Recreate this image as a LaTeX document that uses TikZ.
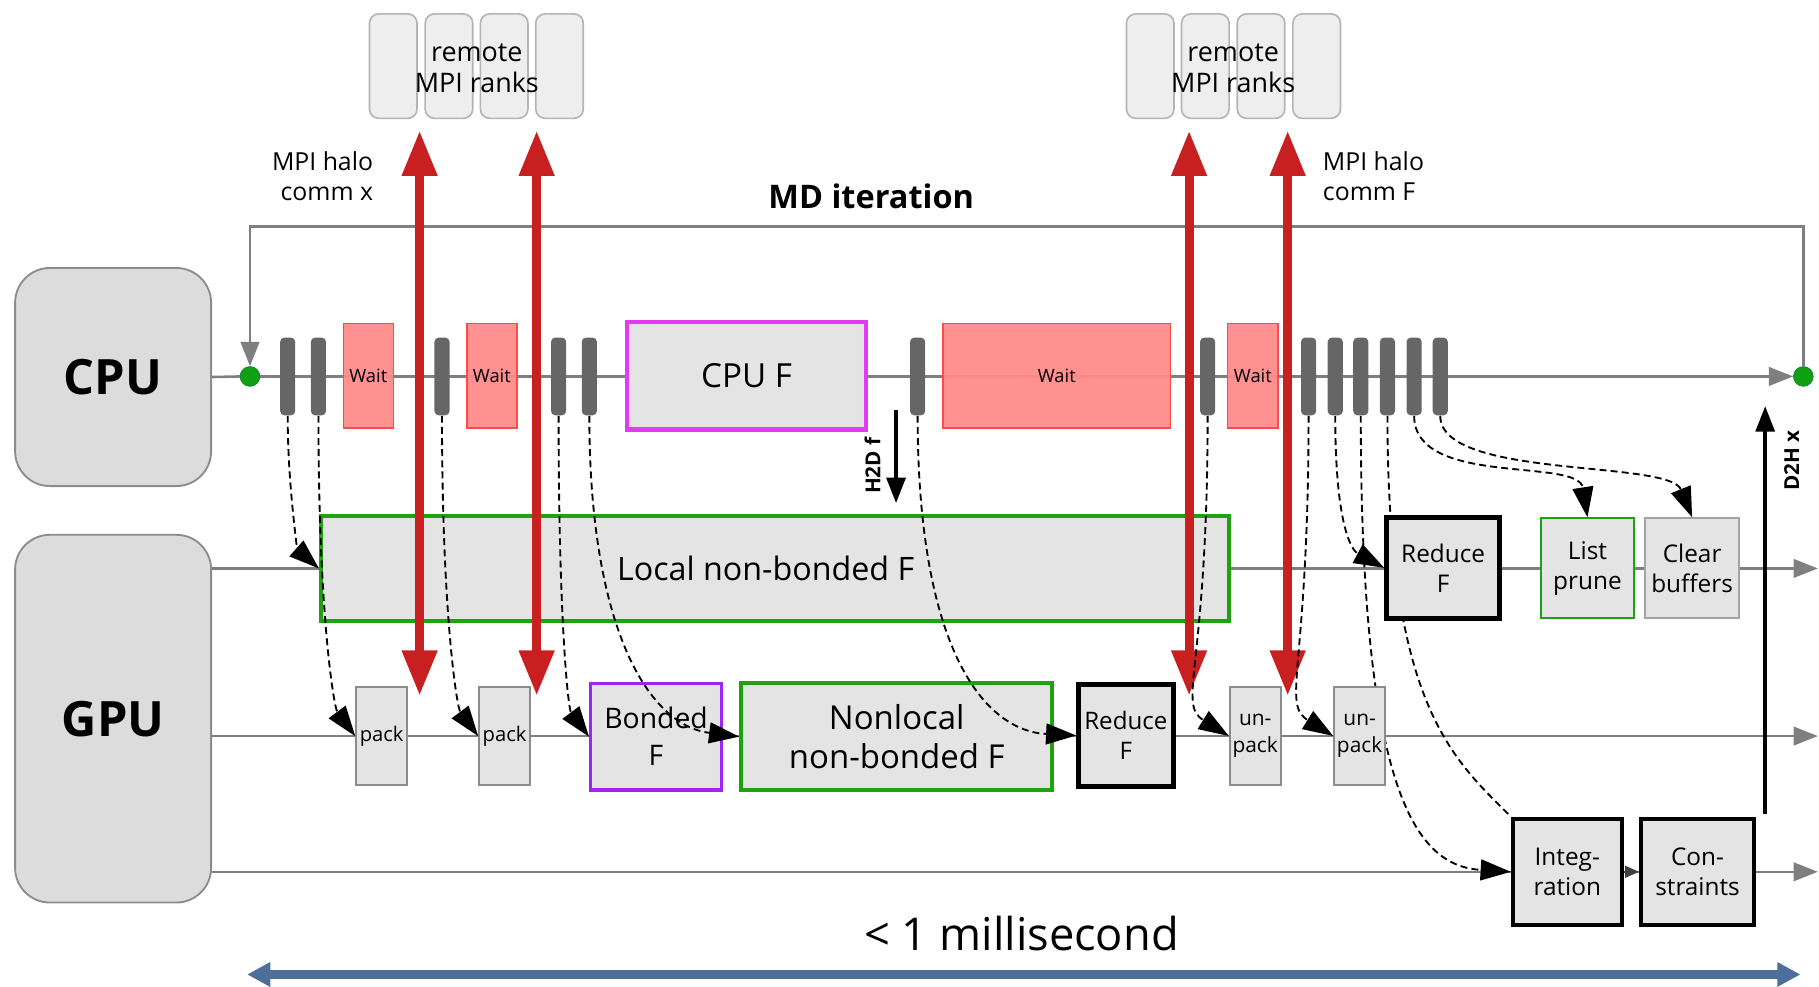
\documentclass[tikz,border=0pt]{standalone}
\usepackage{fontspec}
\setmainfont{Open Sans}
\usetikzlibrary{arrows.meta}
\pgfdeclarelayer{bg}
\pgfsetlayers{bg,main}
\definecolor{boxgray}{HTML}{E4E4E4}
\definecolor{pugray}{HTML}{DCDCDC}
\definecolor{edgegray}{HTML}{8C8C8C}
\definecolor{linegray}{HTML}{7F7F7F}
\definecolor{bargray}{HTML}{666666}
\definecolor{waitfill}{HTML}{FF8A8A}
\definecolor{waitedge}{HTML}{FF4A4A}
\definecolor{mdgreen}{HTML}{1FA20F}
\definecolor{magentaF}{HTML}{E53AF5}
\definecolor{purpleF}{HTML}{A025F5}
\definecolor{mpired}{HTML}{C82020}
\definecolor{dotgreen}{HTML}{11A011}
\definecolor{timeblue}{HTML}{4D6E99}
\definecolor{remotefill}{HTML}{EEEEEE}
\definecolor{remoteedge}{HTML}{B4B4B4}
\tikzset{
 lane/.style={draw=linegray, line width=1.1pt},
 lanearrow/.style={lane, -{Triangle[length=10.5pt,width=8pt]}},
 pu/.style={draw=edgegray, fill=pugray, rounded corners=15pt, line width=0.8pt, inner sep=0pt, font=\fontsize{21}{25}\selectfont\bfseries},
 remote/.style={draw=remoteedge, fill=remotefill, rounded corners=4pt, line width=0.7pt, minimum width=20.5pt, minimum height=45pt, inner sep=0pt},
 bar/.style={fill=bargray, rounded corners=1.8pt, minimum width=6.5pt, minimum height=33.5pt, inner sep=0pt},
 wait/.style={draw=waitedge, fill=waitfill, fill opacity=0.94, text opacity=1, line width=0.6pt, minimum height=45pt, inner sep=0pt, font=\fontsize{7.9}{9}\selectfont},
 task/.style={draw=edgegray, fill=boxgray, line width=0.8pt, inner sep=0pt, align=center},
 dot/.style={circle, fill=dotgreen, draw=dotgreen!80!blue, line width=0.3pt, minimum size=8.5pt, inner sep=0pt},
 mpi/.style={draw=mpired, line width=3.8pt, {Triangle[length=19.5pt,width=14.5pt]}-{Triangle[length=19.5pt,width=14.5pt]}},
 dep/.style={draw=black, line width=0.8pt, dash pattern=on 3pt off 1.8pt, -{Triangle[length=13pt,width=9pt]}},
 depplain/.style={draw=black, line width=0.8pt, dash pattern=on 3pt off 1.8pt},
 xfer/.style={draw=black, line width=1.8pt, -{Triangle[length=11pt,width=8pt]}},
 xferlbl/.style={rotate=90, font=\fontsize{8.9}{10}\selectfont\bfseries, inner sep=0pt},
 timeline/.style={draw=timeblue, line width=3.6pt, {Triangle[length=10pt,width=10pt]}-{Triangle[length=10pt,width=10pt]}},
 lbl/.style={font=\fontsize{10.7}{13}\selectfont, inner sep=0pt},
}
\begin{document}
\begin{tikzpicture}[x=0.5pt,y=-0.5pt]
\useasboundingbox (0,0) rectangle (1568,850);

% processing units
\node[pu, minimum width=84.5pt, minimum height=94pt] (cpu) at (97.5,325) {CPU};
\node[pu, minimum width=84.5pt, minimum height=158.5pt] (gpu) at (97.5,619.5) {GPU};

% remote ranks
\node[remote] (ra1) at (339,57) {};
\node[remote] (ra2) at (387,57) {};
\node[remote] (ra3) at (434.6,57) {};
\node[remote] (ra4) at (482.3,57) {};
\node[font=\fontsize{11.6}{13.5}\selectfont, align=center, inner sep=0pt] (rtxt1) at (411,59) {remote\\MPI ranks};
\node[remote] (rb1) at (991.5,57) {};
\node[remote] (rb2) at (1039,57) {};
\node[remote] (rb3) at (1087,57) {};
\node[remote] (rb4) at (1135,57) {};
\node[font=\fontsize{11.6}{13.5}\selectfont, align=center, inner sep=0pt] (rtxt2) at (1063,59) {remote\\MPI ranks};

% labels
\node[lbl, anchor=east, align=right] (hx) at (322,152) {MPI halo\\comm x};
\node[lbl, anchor=west, align=left] (hf) at (1140,152) {MPI halo\\comm F};
\node[font=\fontsize{14}{17}\selectfont\bfseries, inner sep=0pt] (md) at (751,169) {MD iteration};

% CPU timeline
\node[dot] (d1) at (215.5,324.5) {};
\node[dot] (d2) at (1554.5,324.5) {};
\foreach \x [count=\i] in {248,274.5,381,481.5,508,791,1041,1128,1151,1173,1196,1219,1241.5}
  \node[bar] (b\i) at (\x,324.5) {};
\node[wait, minimum width=21.5pt] (w1) at (317.5,324) {Wait};
\node[wait, minimum width=21.5pt] (w2) at (424,324) {Wait};
\node[wait, minimum width=98.2pt] (w3) at (911,324) {Wait};
\node[wait, minimum width=21.7pt] (w4) at (1080,324) {Wait};
\node[task, draw=magentaF, line width=2pt, minimum width=103pt, minimum height=46.5pt, font=\fontsize{14.3}{17}\selectfont] (cpuf) at (643.5,324) {CPU F};

% GPU lane 1
\node[task, draw=mdgreen, line width=1.8pt, minimum width=391.5pt, minimum height=45.3pt, font=\fontsize{13.9}{17}\selectfont] (local) at (668.2,490) {\kern-8.2pt Local non-bonded F};
\node[task, draw=black, line width=2pt, minimum width=48.8pt, minimum height=43.5pt, font=\fontsize{10.5}{13}\selectfont] (reduceU) at (1244,489.5) {Reduce\\F};
\node[task, draw=mdgreen, line width=0.8pt, minimum width=40.2pt, minimum height=43pt, font=\fontsize{10.5}{13}\selectfont] (prune) at (1368.4,489.7) {List\\prune};
\node[task, draw=edgegray!80, line width=0.8pt, minimum width=40.5pt, minimum height=43pt, font=\fontsize{10.5}{13}\selectfont] (clear) at (1458.6,489.7) {Clear\\buffers};

% GPU lane 2
\node[task, minimum width=22pt, minimum height=42.5pt, font=\fontsize{8.7}{10}\selectfont] (pack1) at (329,634.5) {pack};
\node[task, minimum width=22pt, minimum height=42.5pt, font=\fontsize{8.7}{10}\selectfont] (pack2) at (435,634.5) {pack};
\node[task, draw=purpleF, line width=1.5pt, minimum width=56.3pt, minimum height=45.8pt, font=\fontsize{12.2}{16}\selectfont] (bonded) at (565.5,635) {Bonded\\F};
\node[task, draw=mdgreen, line width=1.8pt, minimum width=134pt, minimum height=46pt, font=\fontsize{14.2}{17}\selectfont] (nonlocal) at (773,635) {Nonlocal\\non-bonded F};
\node[task, draw=black, line width=2pt, minimum width=40.8pt, minimum height=43.8pt, font=\fontsize{10.4}{13}\selectfont] (reduceL) at (970.5,634) {Reduce\\F};
\node[task, minimum width=22pt, minimum height=42.4pt, font=\fontsize{9}{11.5}\selectfont] (unpack1) at (1082,634.4) {un-\\pack};
\node[task, minimum width=22pt, minimum height=42.4pt, font=\fontsize{9}{11.5}\selectfont] (unpack2) at (1172,634.4) {un-\\pack};

% GPU lane 3
\node[task, draw=black, line width=1.7pt, minimum width=47pt, minimum height=45.9pt, font=\fontsize{10.5}{13}\selectfont] (integ) at (1351,751.5) {Integ-\\ration};
\node[task, draw=black, line width=1.7pt, minimum width=48.7pt, minimum height=45.9pt, font=\fontsize{10.5}{13}\selectfont] (cons) at (1463.3,751.5) {Con-\\straints};

% free ends
\coordinate (e1) at (1567,490);
\coordinate (e2) at (1567,634.5);
\coordinate (e3) at (1567,751.5);
\coordinate (m1t) at (361.7,112.7); \coordinate (m1b) at (361.7,599.6);
\coordinate (m2t) at (462.6,112.7); \coordinate (m2b) at (462.6,599.6);
\coordinate (m3t) at (1025,112.7); \coordinate (m3b) at (1025,599.6);
\coordinate (m4t) at (1110,112.7); \coordinate (m4b) at (1110,599.6);
\coordinate (h1) at (772.4,353.4); \coordinate (h2) at (772.4,433.8);
\coordinate (x1) at (1521.6,701.7); \coordinate (x2) at (1521.6,350);
\coordinate (t1) at (213,840); \coordinate (t2) at (1552,840);

\begin{pgfonlayer}{bg}
\draw[lane] (cpu.east) -- (d1.west);
\draw[lanearrow] (d1.east) -- (d2.west);
\draw[lanearrow] (d2.north) -- ++(0,-120.6) -| (d1.north);
\draw[lanearrow] (gpu.east |- local.west) -- (e1);
\draw[lanearrow] (gpu.east |- pack1.west) -- (e2);
\draw[lanearrow] (gpu.east |- integ.west) -- (e3);
\draw[dep] (b10.south) .. controls +(0,330) and +(-80,-5) .. (integ.west);
\draw[depplain] (b11.south) .. controls +(0,250) and +(-50,-50) .. (integ.north west);
\end{pgfonlayer}

\draw[black!75, line width=1pt, -{Triangle[length=6pt,width=5pt]}] (integ.east) -- (cons.west);

% MPI communication
\draw[mpi] (m1b) -- (m1t);
\draw[mpi] (m2b) -- (m2t);
\draw[mpi] (m3b) -- (m3t);
\draw[mpi] (m4b) -- (m4t);

% transfers
\draw[xfer] (h1) -- (h2);
\node[xferlbl] (h2dl) at (752,401.5) {H2D f};
\draw[xfer] (x1) -- (x2);
\node[xferlbl] (d2hl) at (1544.5,397) {D2H x};

% dependencies
\draw[dep] (b1.south) .. controls +(0,62) and +(-18,-16) .. (local.west);
\draw[dep] (b2.south) .. controls +(0,175) and +(-18,-24) .. (pack1.west);
\draw[dep] (b3.south) .. controls +(0,175) and +(-18,-24) .. (pack2.west);
\draw[dep] (b4.south) .. controls +(0,175) and +(-18,-24) .. (bonded.west);
\draw[dep] (b5.south) .. controls +(0,182) and +(-79,-10) .. (nonlocal.west);
\draw[dep] (b6.south) .. controls +(0,202) and +(-79,-4) .. (reduceL.west);
\draw[dep] (b7.south) .. controls +(0,220) and +(-45,-28) .. (unpack1.west);
\draw[dep] (b8.south) .. controls +(0,220) and +(-45,-28) .. (unpack2.west);
\draw[dep] (b9.south) .. controls +(0,95) and +(-28,-15) .. (reduceU.west);
\draw[dep] (b12.south) .. controls +(0,62) and +(-8,-52) .. (prune.north);
\draw[dep] (b13.south) .. controls +(0,55) and +(-20,-50) .. (clear.north);

% time scale
\draw[timeline] (t1) -- (t2);
\node[font=\fontsize{19.5}{23}\selectfont, inner sep=0pt] (ms) at (880.6,805) {< 1 millisecond};
\end{tikzpicture}
\end{document}
